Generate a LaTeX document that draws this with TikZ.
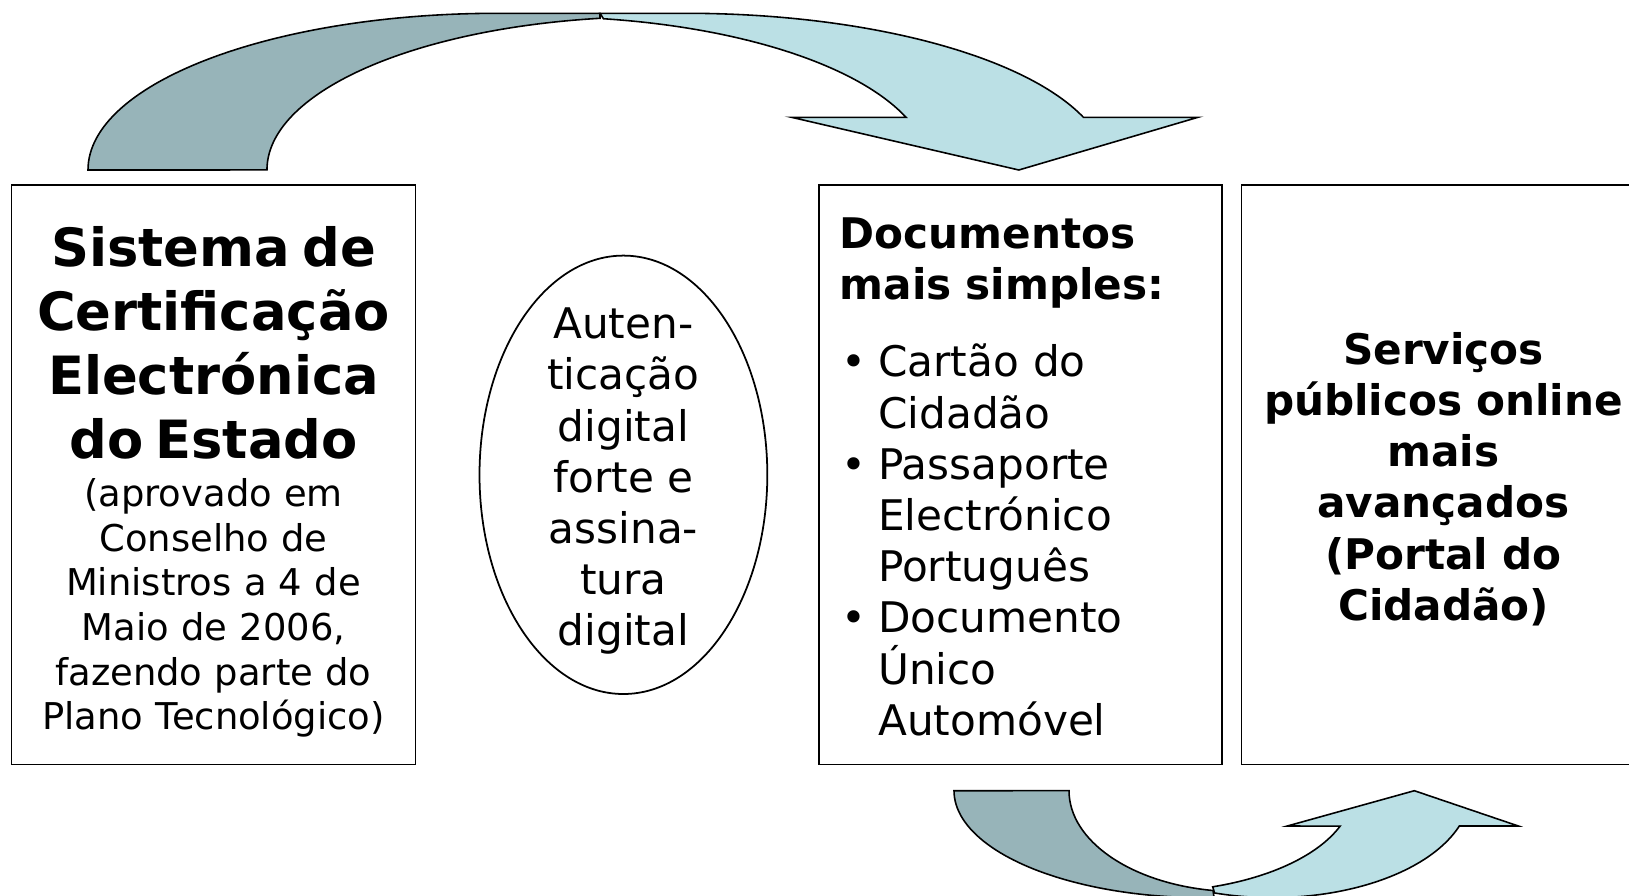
\documentclass[tikz,border=0pt]{standalone}
\usepackage{fontspec}
\setmainfont{DejaVu Sans}
\usetikzlibrary{shapes,calc,positioning}

\definecolor{setaesc}{RGB}{151,180,185}
\definecolor{setaclr}{RGB}{187,224,229}

\begin{document}
\begin{tikzpicture}
	\tikzstyle{every node}=[font=\fontsize{12}{14.57}\selectfont]
	\tikzstyle{caixa}=[draw, line width=0.5pt, rectangle, minimum height=5.796cm, inner sep=0pt]
	\tikzstyle{seta}=[draw, line width=0.45pt, line join=miter]
	\useasboundingbox (0,0) rectangle (16.29,-8.95);

	% seta de cima
	\filldraw[seta, fill=setaesc] (0.88,-1.70) arc[start angle=180, end angle=90, x radius=4.10, y radius=1.567] -- (6.00,-0.133) -- (6.00,-0.183) arc[start angle=98.4, end angle=180, x radius=3.90, y radius=1.533] -- cycle;
	\filldraw[seta, fill=setaclr] (6.00,-0.133) -- (6.86,-0.133) arc[start angle=90, end angle=19.6, x radius=4.22, y radius=1.567] -- (11.98,-1.173) -- (10.188,-1.70) -- (7.915,-1.173) -- (9.06,-1.173) arc[start angle=20.1, end angle=80.6, x radius=3.90, y radius=1.533] -- cycle;

	% seta de baixo
	\filldraw[seta, fill=setaesc] (9.54,-7.907) arc[start angle=180, end angle=272.3, x radius=2.50, y radius=1.07] -- (12.13,-8.905) arc[start angle=261.2, end angle=180, x radius=1.70, y radius=1.01] -- cycle;
	\filldraw[seta, fill=setaclr] (12.127,-8.868) arc[start angle=-72, end angle=-20.5, x radius=2.03, y radius=1.01] -- (12.873,-8.26) -- (14.143,-7.907) -- (15.183,-8.26) -- (14.593,-8.26) arc[start angle=-19.3, end angle=-107, x radius=1.98, y radius=1.07] -- cycle;

	\node[caixa, minimum width=4.042cm] (sistema) at (2.135,-4.748) {};
	\node[text width=3.9cm, align=center, font=\fontsize{10.5}{12.72}\selectfont] (sistematxt) at ([yshift=-0.073cm]sistema.center) {{\fontsize{15}{18.2}\selectfont\bfseries Sistema de\\Certificação\\Electrónica\\do Estado\par}\vspace{0.9pt}(aprovado em\\Conselho de\\Ministros a 4 de\\Maio de 2006,\\fazendo parte do\\Plano Tecnológico)};

	\node[draw, ellipse, line width=0.5pt, minimum width=2.878cm, minimum height=4.384cm, inner sep=0pt] (autent) at (6.234,-4.748) {};
	\node[align=center] (autenttxt) at ([yshift=-0.065cm]autent.center) {Auten-\\ticação\\digital\\forte e\\assina-\\tura\\digital};

	\node[caixa, minimum width=4.03cm] (docs) at (10.202,-4.748) {};
	\node[text width=3.61cm, align=left, inner sep=0pt] (docstxt) at ([yshift=-0.02cm]docs.center) {\textbf{Documentos\\mais simples:}\\[7.4pt]
		\hspace*{0.15mm}\makebox[3.7mm][l]{\textbullet}Cartão do\\
		\hspace*{3.85mm}Cidadão\\
		\hspace*{0.15mm}\makebox[3.7mm][l]{\textbullet}Passaporte\\
		\hspace*{3.85mm}Electrónico\\
		\hspace*{3.85mm}Português\\
		\hspace*{0.15mm}\makebox[3.7mm][l]{\textbullet}Documento\\
		\hspace*{3.85mm}Único\\
		\hspace*{3.85mm}Automóvel};

	\node[caixa, minimum width=4.04cm] (servicos) at (14.435,-4.748) {};
	\node[text width=3.9cm, align=center, font=\fontsize{12}{14.57}\selectfont\bfseries] (servicostxt) at ([yshift=-0.042cm]servicos.center) {Serviços\\públicos online\\mais\\avançados\\(Portal do\\Cidadão)};
\end{tikzpicture}
\end{document}
